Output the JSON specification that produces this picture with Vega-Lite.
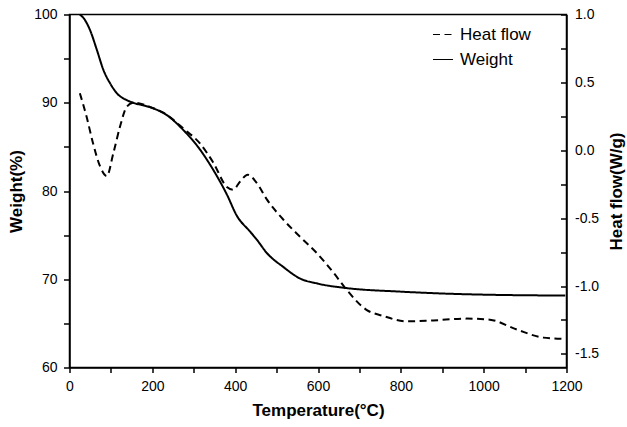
{
  "$schema": "https://vega.github.io/schema/vega-lite/v6.json",
  "width": 497,
  "height": 353,
  "autosize": {"type": "none"},
  "padding": {"left": 69.5, "top": 14.5, "right": 60.5, "bottom": 59.5},
  "background": "white",
  "config": {
    "font": "Liberation Sans",
    "view": {"stroke": "black", "strokeWidth": 1.5},
    "axis": {
      "grid": false,
      "domainColor": "black",
      "domainWidth": 1.5,
      "tickColor": "black",
      "tickWidth": 1.5,
      "labelColor": "black",
      "labelFont": "Liberation Sans",
      "labelFontSize": 14,
      "titleFont": "Liberation Sans",
      "titleFontSize": 17,
      "titleFontWeight": "bold",
      "titleColor": "black"
    }
  },
  "datasets": {
    "weight": [
      {"T": 25, "weight": 100.0},
      {"T": 37, "weight": 99.4},
      {"T": 49, "weight": 98.3},
      {"T": 66, "weight": 96.0},
      {"T": 82, "weight": 93.7},
      {"T": 98, "weight": 92.2},
      {"T": 114, "weight": 91.1},
      {"T": 138, "weight": 90.3},
      {"T": 154, "weight": 90.0},
      {"T": 194, "weight": 89.5},
      {"T": 235, "weight": 88.6},
      {"T": 275, "weight": 86.9},
      {"T": 315, "weight": 84.7},
      {"T": 347, "weight": 82.4},
      {"T": 380, "weight": 79.6},
      {"T": 404, "weight": 77.2},
      {"T": 436, "weight": 75.4},
      {"T": 452, "weight": 74.5},
      {"T": 476, "weight": 73.0},
      {"T": 516, "weight": 71.4},
      {"T": 556, "weight": 70.1},
      {"T": 600, "weight": 69.5},
      {"T": 669, "weight": 69.0},
      {"T": 798, "weight": 68.6},
      {"T": 959, "weight": 68.3},
      {"T": 1197, "weight": 68.15}
    ],
    "heat": [
      {"T": 25, "heat": 0.42},
      {"T": 41, "heat": 0.25},
      {"T": 57, "heat": 0.05},
      {"T": 74, "heat": -0.12},
      {"T": 90, "heat": -0.19},
      {"T": 106, "heat": -0.02},
      {"T": 122, "heat": 0.175},
      {"T": 138, "heat": 0.32},
      {"T": 154, "heat": 0.35},
      {"T": 194, "heat": 0.32},
      {"T": 235, "heat": 0.26},
      {"T": 275, "heat": 0.16},
      {"T": 315, "heat": 0.05},
      {"T": 347, "heat": -0.09},
      {"T": 380, "heat": -0.27},
      {"T": 395, "heat": -0.29},
      {"T": 412, "heat": -0.23},
      {"T": 430, "heat": -0.18},
      {"T": 452, "heat": -0.24},
      {"T": 476, "heat": -0.36},
      {"T": 516, "heat": -0.51},
      {"T": 556, "heat": -0.635},
      {"T": 597, "heat": -0.757},
      {"T": 637, "heat": -0.9},
      {"T": 669, "heat": -1.027},
      {"T": 717, "heat": -1.175},
      {"T": 757, "heat": -1.22},
      {"T": 814, "heat": -1.26},
      {"T": 878, "heat": -1.253},
      {"T": 959, "heat": -1.24},
      {"T": 1015, "heat": -1.248},
      {"T": 1080, "heat": -1.32},
      {"T": 1144, "heat": -1.38},
      {"T": 1197, "heat": -1.39}
    ]
  },
  "layer": [
    {
      "data": {"name": "weight"},
      "mark": {"type": "line", "color": "black", "strokeWidth": 2, "interpolate": "monotone"},
      "encoding": {
        "x": {
          "field": "T", "type": "quantitative",
          "scale": {"domain": [0, 1200], "nice": false, "zero": false},
          "axis": {
            "title": "Temperature(°C)",
            "format": "d",
            "tickCount": 12,
            "labelExpr": "datum.value % 200 == 0 ? datum.label : ''",
            "tickSize": 5,
            "labelPadding": 7,
            "titlePadding": 9,
            "labelFlush": false,
            "labelOverlap": false
          }
        },
        "y": {
          "field": "weight", "type": "quantitative",
          "scale": {"domain": [60, 100], "nice": false, "zero": false},
          "axis": {
            "orient": "left",
            "title": "Weight(%)",
            "tickCount": 8,
            "labelExpr": "datum.value % 10 == 0 ? datum.label : ''",
            "tickSize": 6,
            "labelPadding": 6.5,
            "titlePadding": 8,
            "labelFlush": false,
            "labelOverlap": false
          }
        },
        "strokeDash": {
          "datum": "Weight",
          "type": "nominal",
          "scale": {"domain": ["Heat flow", "Weight"], "range": [[7, 4.5], [1, 0]]},
          "legend": {
            "title": null,
            "orient": "none",
            "legendX": 362.5,
            "legendY": 9,
            "symbolType": "stroke",
            "symbolSize": 400,
            "symbolStrokeWidth": 1.2,
            "symbolStrokeColor": "black",
            "labelFont": "Liberation Sans",
            "labelFontSize": 17,
            "labelColor": "black",
            "labelOffset": 6,
            "rowPadding": 6
          }
        }
      }
    },
    {
      "data": {"name": "heat"},
      "mark": {"type": "line", "color": "black", "strokeWidth": 2, "interpolate": "monotone"},
      "encoding": {
        "x": {"field": "T", "type": "quantitative"},
        "y": {
          "field": "heat", "type": "quantitative",
          "scale": {"domain": [-1.6, 1.0], "nice": false, "zero": false},
          "axis": {
            "orient": "right",
            "title": "Heat flow(W/g)",
            "titleAngle": 270,
            "titleBaseline": "top",
            "values": [-1.5, -1.25, -1.0, -0.75, -0.5, -0.25, 0.0, 0.25, 0.5, 0.75, 1.0],
            "labelExpr": "abs(datum.value * 2 - round(datum.value * 2)) < 0.000001 ? replace(format(datum.value, '.1f'), '\u2212', '-') : ''",
            "tickSize": -6,
            "labelPadding": 14,
            "titlePadding": 10,
            "labelFlush": false
          }
        },
        "strokeDash": {"datum": "Heat flow", "type": "nominal"}
      }
    }
  ],
  "resolve": {"scale": {"y": "independent"}}
}
